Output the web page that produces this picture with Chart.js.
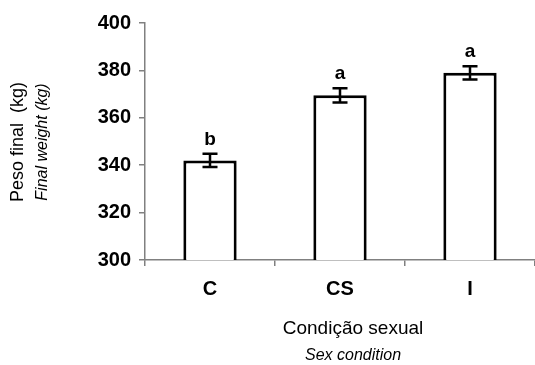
<!DOCTYPE html>
<html>
<head>
<meta charset="utf-8">
<script src="https://cdn.jsdelivr.net/npm/chart.js@4"></script>
<style>
  html, body { margin: 0; padding: 0; background: #ffffff; }
  #wrap { width: 535px; height: 365px; position: relative; }
</style>
</head>
<body>
<div id="wrap"><canvas id="c" width="535" height="365"></canvas></div>
<script>
const categories = ["C", "CS", "I"];
const values = [342, 369.5, 379];
const errors = [2.8, 3.0, 2.8];
const letters = ["b", "a", "a"];
const yTicks = [300, 320, 340, 360, 380, 400];
const yTitle = ["Peso final  (kg)", "Final weight (kg)"];
const xTitle = ["Condição sexual", "Sex condition"];

const FAM = "'Liberation Sans', Arial, Helvetica, sans-serif";

const annot = {
  id: 'annot',
  afterDatasetsDraw(chart) {
    const ctx = chart.ctx;
    const meta = chart.getDatasetMeta(0);
    const ys = chart.scales.y;
    ctx.save();
    ctx.strokeStyle = '#000';
    ctx.lineWidth = 2.5;
    ctx.fillStyle = '#000';
    meta.data.forEach((bar, i) => {
      const x = bar.x;
      const yt = ys.getPixelForValue(values[i] + errors[i]);
      const yb = ys.getPixelForValue(values[i] - errors[i]);
      ctx.beginPath();
      ctx.moveTo(x, yt); ctx.lineTo(x, yb);
      ctx.moveTo(x - 7.5, yt); ctx.lineTo(x + 7.5, yt);
      ctx.moveTo(x - 7.5, yb); ctx.lineTo(x + 7.5, yb);
      ctx.stroke();
      ctx.font = "bold 19px " + FAM;
      ctx.textAlign = 'center';
      ctx.textBaseline = 'alphabetic';
      ctx.fillText(letters[i], x, yt - 9);
    });
    ctx.restore();
  },
  afterDraw(chart) {
    const ctx = chart.ctx;
    ctx.save();
    ctx.fillStyle = '#000';
    ctx.textAlign = 'center';
    ctx.textBaseline = 'middle';
    ctx.translate(18, 142);
    ctx.rotate(-Math.PI / 2);
    ctx.font = "18px " + FAM;
    ctx.fillText(yTitle[0], 0, 0);
    ctx.font = "italic 16px " + FAM;
    ctx.fillText(yTitle[1], 0, 25);
    ctx.restore();
    ctx.save();
    ctx.fillStyle = '#000';
    ctx.textAlign = 'center';
    ctx.textBaseline = 'alphabetic';
    ctx.font = "19px " + FAM;
    ctx.fillText(xTitle[0], 353, 334);
    ctx.font = "italic 16px " + FAM;
    ctx.fillText(xTitle[1], 353, 360);
    ctx.restore();
  }
};

new Chart(document.getElementById('c'), {
  type: 'bar',
  data: {
    labels: categories,
    datasets: [{
      data: values,
      backgroundColor: '#ffffff',
      borderColor: '#000000',
      borderWidth: 3,
      borderSkipped: false,
      barPercentage: 0.41,
      categoryPercentage: 1.0
    }]
  },
  options: {
    responsive: false,
    animation: false,
    devicePixelRatio: 1,
    layout: { padding: { top: 23, right: 0, left: 0, bottom: 0 } },
    plugins: { legend: { display: false }, tooltip: { enabled: false }, title: { display: false } },
    scales: {
      y: {
        min: 300, max: 400,
        afterFit(s) { s.width = 145; },
        afterBuildTicks(s) { s.ticks = yTicks.map(v => ({ value: v })); },
        ticks: { color: '#000', font: { family: FAM, size: 20, weight: 'bold' }, padding: 8 },
        grid: { drawOnChartArea: false, drawTicks: true, tickLength: 6, color: '#808080', lineWidth: 1.5 },
        border: { display: true, color: '#808080', width: 1.5 }
      },
      x: {
        offset: true,
        afterFit(s) { s.height = 105; },
        ticks: { color: '#000', font: { family: FAM, size: 20, weight: 'bold' }, padding: 11 },
        grid: { drawOnChartArea: false, drawTicks: true, tickLength: 6, color: '#808080', lineWidth: 1.5, offset: true },
        border: { display: true, color: '#808080', width: 1.5 }
      }
    }
  },
  plugins: [annot]
});
</script>
</body>
</html>
